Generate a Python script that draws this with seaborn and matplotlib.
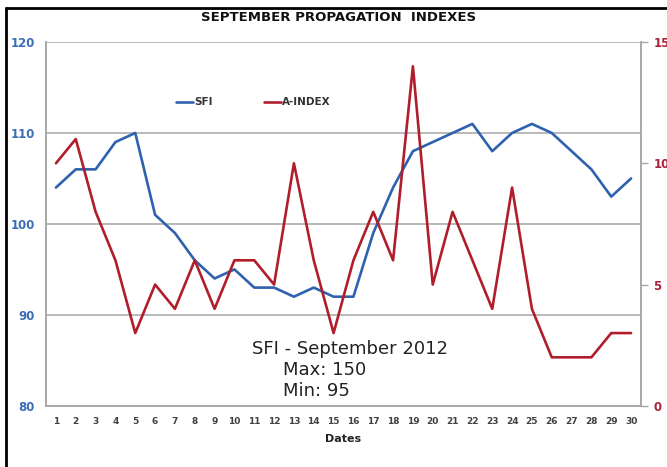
import matplotlib
matplotlib.use("Agg")
import matplotlib.pyplot as plt
import seaborn as sns
import pandas as pd
from matplotlib.lines import Line2D

# data
dates = list(range(1, 31))
sfi = [104, 106, 106, 109, 110, 101, 99, 96, 94, 95, 93, 93, 92, 93, 92,
       92, 99, 104, 108, 109, 110, 111, 108, 110, 111, 110, 108, 106, 103, 105]
a_index = [10, 11, 8, 6, 3, 5, 4, 6, 4, 6, 6, 5, 10, 6, 3,
           6, 8, 6, 14, 5, 8, 6, 4, 9, 4, 2, 2, 2, 3, 3]
left_ticks = [80, 90, 100, 110, 120]
right_ticks = [0, 5, 10, 15]

df = pd.DataFrame({'date': dates, 'sfi': sfi, 'a_index': a_index})

blue = '#2F62AE'
red = '#B01E2C'
grid_grey = '#A6A6A6'

sns.set_style('white')
fig = plt.figure(figsize=(6.67, 4.67), dpi=100)
ax = fig.add_axes([0.069, 0.131, 0.892, 0.779])
ax2 = ax.twinx()

sns.lineplot(data=df, x='date', y='sfi', ax=ax, color=blue, linewidth=1.9)
sns.lineplot(data=df, x='date', y='a_index', ax=ax2, color=red, linewidth=1.9)

ax.set_xlim(0.5, 30.5)
ax.set_ylim(80, 120)
ax.set_yticks(left_ticks)
ax.set_xticks(dates)
ax.set_xticklabels([str(d) for d in dates], fontsize=6.5, fontweight='bold', color='#404040')
ax.set_yticklabels([str(t) for t in left_ticks], fontsize=8.5, fontweight='bold', color='#3C6DB8')
ax.tick_params(axis='x', length=0, pad=8)
ax.tick_params(axis='y', length=0, pad=8)
for y in left_ticks[1:]:
    ax.axhline(y, color=grid_grey, linewidth=1.1, zorder=0)

ax2.set_ylim(0, 15)
ax2.set_yticks(right_ticks)
ax2.set_yticklabels([str(t) for t in right_ticks], fontsize=8.5, fontweight='bold', color='#A8233A')
ax2.tick_params(axis='y', length=5, width=1, color=grid_grey, pad=4)

for a in (ax, ax2):
    a.spines['top'].set_visible(False)
    for side in ('left', 'bottom', 'right'):
        a.spines[side].set_color(grid_grey)
        a.spines[side].set_linewidth(1.1)

ax.set_ylabel('')
ax2.set_ylabel('')
ax.set_xlabel('Dates', fontsize=8, fontweight='bold', color='#222222', labelpad=6)

fig.text(0.507, 0.962, 'SEPTEMBER PROPAGATION  INDEXES', ha='center', va='center',
         fontsize=9.5, fontweight='bold', color='#111111')

handles = [Line2D([], [], color=blue, linewidth=1.9), Line2D([], [], color=red, linewidth=1.9)]
fig.legend(handles, ['SFI', 'A-INDEX'], loc='center left', bbox_to_anchor=(0.25, 0.781),
           ncol=2, frameon=False, handlelength=1.6, handletextpad=0.1, columnspacing=5.0,
           prop={'size': 7.5, 'weight': 'bold'}, labelcolor='#333333')

fig.text(0.378, 0.252, 'SFI - September 2012', fontsize=13,
         color='#222222', va='center', ha='left')
fig.text(0.424, 0.207, 'Max: 150', fontsize=13,
         color='#222222', va='center', ha='left')
fig.text(0.424, 0.162, 'Min: 95', fontsize=13,
         color='#222222', va='center', ha='left')

# black frame on the left and top
fig.add_artist(Line2D([0.009, 0.009], [0.0, 0.983], transform=fig.transFigure, color='black', linewidth=2))
fig.add_artist(Line2D([0.009, 1.0], [0.983, 0.983], transform=fig.transFigure, color='black', linewidth=2))

fig.savefig('out.png', dpi=100)
